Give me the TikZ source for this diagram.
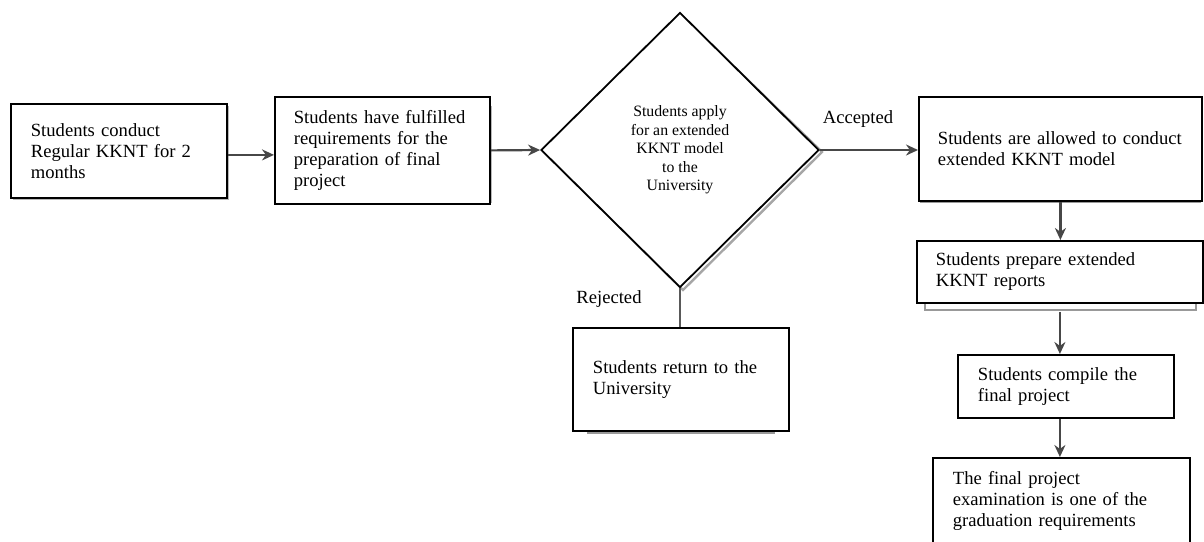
\documentclass[tikz,border=0pt]{standalone}
\usepackage{fontspec}
\setmainfont{Liberation Serif}
\usetikzlibrary{shapes.geometric,arrows.meta}
\begin{document}
\begin{tikzpicture}[x=1pt,y=-1pt,
  font=\fontsize{18.6}{21}\selectfont,
  box/.style={draw=black, line width=1.8pt, fill=white, rectangle, align=left,
    anchor=north west, inner ysep=0pt},
  arr/.style={draw=black!72, line width=2.2pt, -{Stealth[length=12pt,width=11pt]}},
  plainline/.style={draw=black!65, line width=2.4pt},
  shad/.style={fill=black!28, draw=none},
  shadline/.style={draw=black!40, line width=2pt},
  lbl/.style={inner sep=0pt}
]
\useasboundingbox (0,0) rectangle (1204,541);

% shadows
\fill[shad] (13,106) rectangle (229,200);
\fill[shad] (480,106) rectangle (492,203);
\draw[black!35, line width=2.4pt] (681,15) -- (822,152) -- (683,290) -- (544,152) -- cycle;
\draw[shadline] (925,302) -- (925,310) -- (1196,310) -- (1196,302);
\draw[shadline] (588,430) -- (588,433) -- (774,433) -- (774,430);
\draw[shadline] (921,200) -- (921,202) -- (1201,202);

% boxes
\node[box, minimum width=216pt, minimum height=94pt, text width=176pt, inner xsep=20pt]
  (b1) at (10,103) {Students conduct\\Regular KKNT for 2\\months};
\node[box, minimum width=215pt, minimum height=107pt, text width=177pt, inner xsep=19pt]
  (b2) at (274,96) {Students have fulfilled\\requirements for the\\preparation of final\\project};
\node[diamond, draw=black, line width=1.8pt, fill=white, minimum width=278pt,
  minimum height=275pt, inner sep=0pt, align=center,
  font=\fontsize{15.8}{18.6}\selectfont]
  (d) at (680,150) {Students apply\\for an extended\\KKNT model\\to the\\University};
\node[box, minimum width=283pt, minimum height=104pt, text width=245pt, inner xsep=19pt]
  (b3) at (918,96) {Students are allowed to conduct\\extended KKNT model};
\node[box, minimum width=286pt, minimum height=62pt, text width=248pt, inner xsep=19pt]
  (b4) at (916,240) {Students prepare extended\\KKNT reports};
\node[box, minimum width=216pt, minimum height=63pt, text width=176pt, inner xsep=20pt]
  (b5) at (957,354) {Students compile the\\final project};
\node[box, minimum width=257pt, minimum height=86pt, text width=217pt, inner xsep=20pt]
  (b6) at (932,457) {The final project\\examination is one of the\\graduation requirements};
\node[box, minimum width=216pt, minimum height=103pt, text width=176pt, inner xsep=20pt]
  (b7) at (572,327) {Students return to the\\University};

% labels
\node[lbl] (acc) at (858,119) {Accepted};
\node[lbl] (rej) at (609,299) {Rejected};

% connectors
\draw[arr] ([yshift=-4pt]b1.east) -- ([yshift=-4pt]b1.east -| b2.west);
\draw[arr] (b2.east) -- (d.west);
\draw[arr] (d.east) -- (d.east -| b3.west);
\draw[arr] (b3.south) -- (b3.south |- b4.north);
\draw[arr] (b4.south) ++(0,8) coordinate (b4s) (b4s) -- (b4s |- b5.north);
\draw[arr] (b5.south -| b4s) -- (b4s |- b6.north);
\draw[plainline] (d.south) -- (d.south |- b7.north);
\end{tikzpicture}
\end{document}
